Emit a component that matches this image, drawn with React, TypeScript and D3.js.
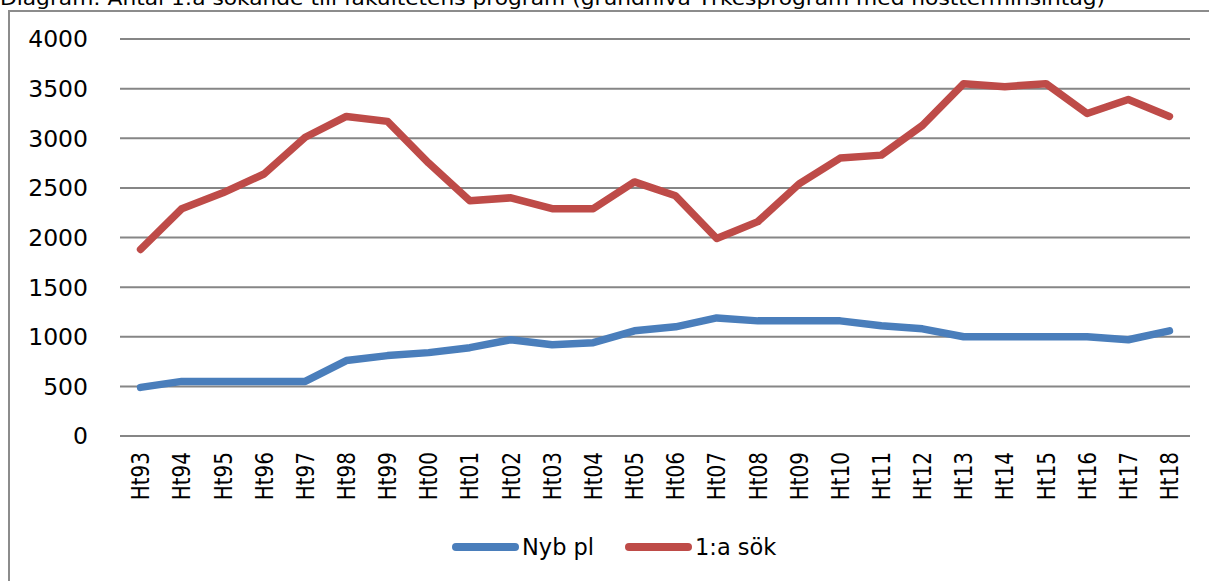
import React from "react";
import * as d3 from "d3";

const categories = ["Ht93","Ht94","Ht95","Ht96","Ht97","Ht98","Ht99","Ht00","Ht01","Ht02","Ht03","Ht04","Ht05","Ht06","Ht07","Ht08","Ht09","Ht10","Ht11","Ht12","Ht13","Ht14","Ht15","Ht16","Ht17","Ht18"];
const nybPl = [490,550,550,550,550,760,810,840,890,970,920,940,1060,1100,1190,1160,1160,1160,1110,1080,1000,1000,1000,1000,970,1060];
const forstaSok = [1880,2290,2450,2640,3010,3220,3170,2750,2370,2400,2290,2290,2560,2420,1990,2160,2540,2800,2830,3130,3550,3520,3550,3250,3390,3220];
const yTicks = [0,500,1000,1500,2000,2500,3000,3500,4000];
const seriesNames = ["Nyb pl", "1:a sök"];
const colors = ["#4A7EBB", "#BE4B48"];
const title = "Diagram: Antal 1:a sökande till fakultetens program (grundnivå Yrkesprogram med höstterminsintag)";

export default function App() {
  const W = 1209, H = 581;
  const left = 120, right = 1190, top = 39, bottom = 436;
  const x = d3.scaleBand<string>().domain(categories).range([left, right]);
  const y = d3.scaleLinear().domain([0, 4000]).range([bottom, top]);
  const line = d3.line<number>()
    .x((_, i) => (x(categories[i]) as number) + x.bandwidth() / 2)
    .y((d) => y(d));
  const font = "'DejaVu Sans', Verdana, sans-serif";
  const series = [nybPl, forstaSok];
  const legendX = [452, 625];
  return (
    <svg width={W} height={H} style={{ position: "absolute", left: 0, top: 0, background: "#fff" }} fontFamily={font}>
      <text x={0} y={5} fontSize={19} fill="#000" textLength={1105} lengthAdjust="spacingAndGlyphs">{title}</text>
      <rect x={9} y={11} width={W + 10} height={H} fill="none" stroke="#8C8C8C" strokeWidth={2} />
      {yTicks.map((t) => (
        <g key={t}>
          <line x1={left} x2={right} y1={y(t)} y2={y(t)} stroke="#868686" strokeWidth={2} />
          <text x={88} y={y(t)} dy="0.36em" textAnchor="end" fontSize={23.5} fill="#000">{t}</text>
        </g>
      ))}
      {categories.map((c) => {
        const cx = (x(c) as number) + x.bandwidth() / 2;
        return (
          <text key={c} transform={`translate(${cx},452) scale(1.2,1) rotate(-90)`} textAnchor="end" dy="0.36em" fontSize={20} fill="#000">{c}</text>
        );
      })}
      {series.map((s, i) => (
        <path key={i} d={line(s) || ""} fill="none" stroke={colors[i]} strokeWidth={7.5} strokeLinejoin="round" strokeLinecap="round" />
      ))}
      {seriesNames.map((n, i) => {
        const lx = legendX[i];
        return (
          <g key={n}>
            <line x1={lx + 4} x2={lx + 63} y1={547} y2={547} stroke={colors[i]} strokeWidth={8} strokeLinecap="round" />
            <text x={lx + 70} y={547} dy="0.36em" fontSize={22.5} fill="#000">{n}</text>
          </g>
        );
      })}
    </svg>
  );
}
